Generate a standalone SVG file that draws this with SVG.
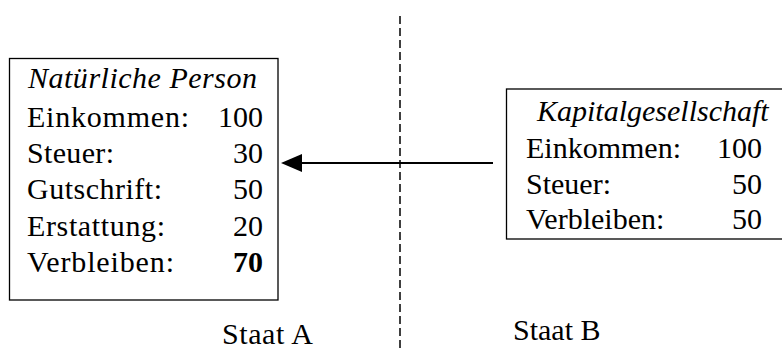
<svg xmlns="http://www.w3.org/2000/svg" width="782" height="349" viewBox="0 0 782 349">
<style>
  text { font-family: 'Liberation Serif', 'Times New Roman', serif; font-size: 30px; fill: #000; }
  .it { font-style: italic; }
  .num { text-anchor: end; }
  .b { font-weight: bold; }
  .box { fill: #fff; stroke: #000; stroke-width: 1.3; }
</style>
<rect width="782" height="349" fill="#fff"/>
<g id="connectors">
  <line x1="400" y1="16" x2="400" y2="349" stroke="#000" stroke-width="1.5" stroke-dasharray="8,4"/>
  <line x1="493" y1="163" x2="302" y2="163" stroke="#000" stroke-width="2"/>
  <path d="M281,163 L302,154 L302,172 z" fill="#000"/>
</g>
<g id="natuerliche-person">
  <rect class="box" x="9.5" y="58.5" width="268.5" height="241.5"/>
  <text class="it" x="28" y="88" textLength="229" lengthAdjust="spacing">Natürliche Person</text>
  <text x="27" y="127" textLength="162" lengthAdjust="spacing">Einkommen:</text><text class="num" x="263" y="127">100</text>
  <text x="27" y="163" textLength="87" lengthAdjust="spacing">Steuer:</text><text class="num" x="263" y="163">30</text>
  <text x="27" y="199" textLength="135" lengthAdjust="spacing">Gutschrift:</text><text class="num" x="263" y="199">50</text>
  <text x="27" y="236" textLength="138" lengthAdjust="spacing">Erstattung:</text><text class="num" x="263" y="236">20</text>
  <text x="27" y="272" textLength="147" lengthAdjust="spacing">Verbleiben:</text><text class="num b" x="263" y="272">70</text>
</g>
<g id="kapitalgesellschaft">
  <rect class="box" x="506.5" y="89" width="290" height="150"/>
  <text class="it" x="537" y="121">Kapitalgesellschaft</text>
  <text x="526" y="158">Einkommen:</text><text class="num" x="762" y="158">100</text>
  <text x="526" y="194">Steuer:</text><text class="num" x="762" y="194">50</text>
  <text x="526" y="229">Verbleiben:</text><text class="num" x="762" y="229">50</text>
</g>
<g id="staat-a"><text x="222" y="344" textLength="91" lengthAdjust="spacing">Staat A</text></g>
<g id="staat-b"><text x="513" y="340">Staat B</text></g>
</svg>
